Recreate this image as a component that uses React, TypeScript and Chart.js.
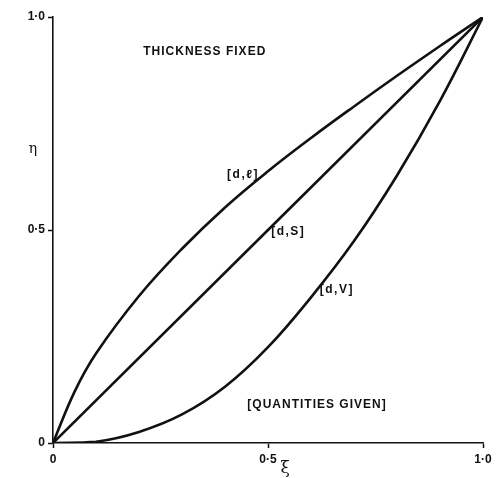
import React, { useEffect, useRef } from "react";
import { Chart, registerables } from "chart.js";

Chart.register(...registerables);

// Tick values and labels
const tickValues = [0, 0.5, 1];
const tickLabels = ["0", "0·5", "1·0"];

// [d,ℓ] curve
const dlX = [0, 0.05, 0.1, 0.2, 0.3, 0.4, 0.5, 0.6, 0.7, 0.8, 0.9, 1];
const dlY = [0, 0.12, 0.21, 0.345, 0.456, 0.553, 0.638, 0.716, 0.79, 0.862, 0.932, 1];

// [d,S] line
const dsX = [0, 1];
const dsY = [0, 1];

// [d,V] curve
const dvX = [0, 0.1, 0.2, 0.3, 0.4, 0.5, 0.6, 0.7, 0.8, 0.9, 1];
const dvY = [0, 0.003, 0.026, 0.067, 0.132, 0.225, 0.342, 0.474, 0.628, 0.803, 1];

// Annotations in data coordinates
const noteTexts = ["THICKNESS FIXED", "[QUANTITIES GIVEN]", "[d,ℓ]", "[d,S]", "[d,V]"];
const noteX = [0.353, 0.614, 0.442, 0.547, 0.66];
const noteY = [0.918, 0.089, 0.629, 0.495, 0.359];

const yTitle = "η";
const xTitle = "ξ";

const zip = (xs: number[], ys: number[]) => xs.map((x, i) => ({ x, y: ys[i] }));

export default function App() {
  const ref = useRef<HTMLCanvasElement>(null);
  useEffect(() => {
    document.body.style.margin = "0";
    const ink = "#111";
    const textPlugin = {
      id: "notes",
      afterDraw(chart: any) {
        const ctx = chart.ctx;
        const xs = chart.scales.x;
        const ys = chart.scales.y;
        ctx.save();
        ctx.fillStyle = ink;
        ctx.textAlign = "center";
        ctx.textBaseline = "middle";
        noteTexts.forEach((t, i) => {
          const big = i < 2;
          ctx.font = "bold 12px 'Liberation Sans', Arial, sans-serif";
          (ctx as any).letterSpacing = big ? "1px" : "1.5px";
          ctx.fillText(t, xs.getPixelForValue(noteX[i]), ys.getPixelForValue(noteY[i]));
        });
        (ctx as any).letterSpacing = "0px";
        ctx.font = "14px 'DejaVu Serif', serif";
        ctx.fillText(yTitle, chart.chartArea.left - 20, ys.getPixelForValue(0.69));
        ctx.font = "17px 'DejaVu Serif', serif";
        ctx.fillText(xTitle, xs.getPixelForValue(0.54), chart.chartArea.bottom + 26);
        ctx.restore();
      },
    };
    const lineDs = (data: any[]) => ({
      data,
      showLine: true,
      borderColor: ink,
      borderWidth: 2.6,
      pointRadius: 0,
      tension: 0.4,
      fill: false,
    });
    const tickFont = { family: "'Liberation Sans', Arial, sans-serif", size: 12, weight: "bold" as const };
    const chart = new Chart(ref.current!, {
      type: "scatter",
      data: {
        datasets: [lineDs(zip(dlX, dlY)), lineDs(zip(dsX, dsY)), lineDs(zip(dvX, dvY))],
      },
      options: {
        responsive: false,
        animation: false,
        layout: { padding: { top: 17, right: 14, left: 0, bottom: 0 } },
        plugins: { legend: { display: false }, tooltip: { enabled: false } },
        scales: {
          x: {
            type: "linear",
            min: 0,
            max: 1,
            afterBuildTicks: (s: any) => {
              s.ticks = tickValues.map((v) => ({ value: v }));
            },
            afterFit: (s: any) => {
              s.height = 35;
            },
            ticks: {
              color: ink,
              font: tickFont,
              padding: 4,
              maxRotation: 0,
              callback: (v: any) => tickLabels[tickValues.indexOf(Number(v))] ?? "",
            },
            grid: { drawOnChartArea: false, drawTicks: true, tickLength: 5, tickColor: ink, tickWidth: 1.5 },
            border: { color: ink, width: 1.6 },
          },
          y: {
            type: "linear",
            min: 0,
            max: 1,
            afterBuildTicks: (s: any) => {
              s.ticks = tickValues.map((v) => ({ value: v }));
            },
            afterFit: (s: any) => {
              s.width = 53;
            },
            ticks: {
              color: ink,
              font: tickFont,
              padding: 3,
              callback: (v: any) => tickLabels[tickValues.indexOf(Number(v))] ?? "",
            },
            grid: { drawOnChartArea: false, drawTicks: true, tickLength: 5, tickColor: ink, tickWidth: 1.5 },
            border: { color: ink, width: 1.6 },
          },
        },
      },
      plugins: [textPlugin],
    });
    return () => chart.destroy();
  }, []);
  return (
    <div style={{ width: 497, height: 478, background: "#fff" }}>
      <canvas ref={ref} width={497} height={478} />
    </div>
  );
}
